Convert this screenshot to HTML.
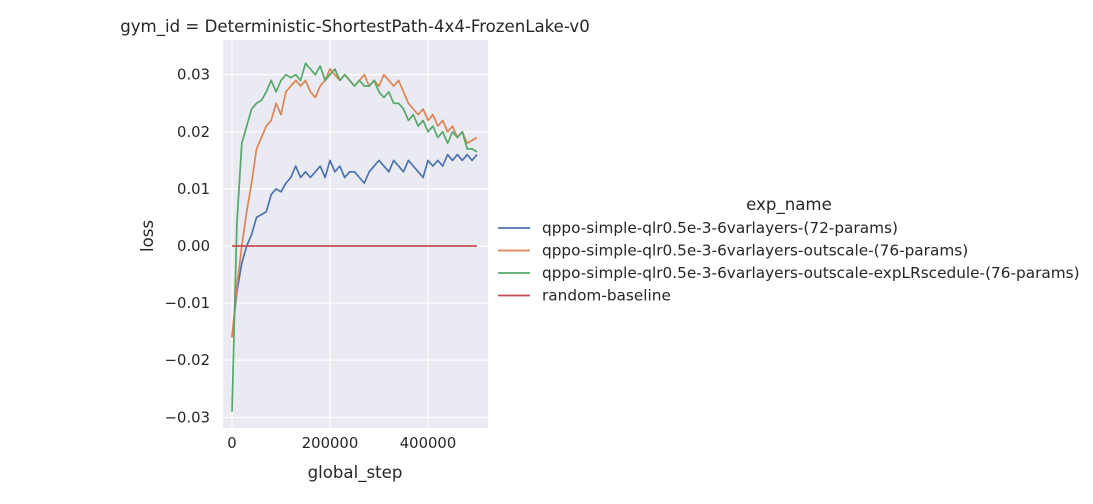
<!DOCTYPE html>
<html><head><meta charset="utf-8"><style>
body{margin:0;background:#fff;font-family:"DejaVu Sans","Liberation Sans",sans-serif;}
</style></head><body>
<svg id="chart" width="1093" height="500" xmlns="http://www.w3.org/2000/svg" font-family="DejaVu Sans, Liberation Sans, sans-serif">
<rect x="223" y="40" width="265" height="388" fill="#eaeaf2"/>
<g id="grid"></g>
<g id="ticks" font-size="14.8" fill="#262626"></g>
<g id="lines"></g>
<text x="355" y="32" text-anchor="middle" font-size="16.6" fill="#262626">gym_id = Deterministic-ShortestPath-4x4-FrozenLake-v0</text>
<text x="355" y="478" text-anchor="middle" font-size="16.6" fill="#262626">global_step</text>
<text transform="translate(153,236) rotate(-90)" text-anchor="middle" font-size="16.6" fill="#262626">loss</text>
<g id="legend" font-size="15.3" fill="#262626">
<text x="789" y="210" text-anchor="middle" font-size="16.6">exp_name</text>
</g>
</svg>
<script>
const steps=[0,10000,20000,30000,40000,50000,60000,70000,80000,90000,100000,110000,120000,130000,140000,150000,160000,170000,180000,190000,200000,210000,220000,230000,240000,250000,260000,270000,280000,290000,300000,310000,320000,330000,340000,350000,360000,370000,380000,390000,400000,410000,420000,430000,440000,450000,460000,470000,480000,490000,500000];
const blue=[-0.016,-0.008,-0.003,0.000,0.002,0.005,0.0055,0.006,0.009,0.010,0.0095,0.011,0.012,0.014,0.012,0.013,0.012,0.013,0.014,0.012,0.015,0.013,0.014,0.012,0.013,0.013,0.012,0.011,0.013,0.014,0.015,0.014,0.013,0.015,0.014,0.013,0.015,0.014,0.013,0.012,0.015,0.014,0.015,0.014,0.016,0.015,0.016,0.015,0.016,0.015,0.016];
const orange=[-0.016,-0.007,0.000,0.006,0.011,0.017,0.019,0.021,0.022,0.025,0.023,0.027,0.028,0.029,0.028,0.029,0.027,0.026,0.028,0.029,0.031,0.030,0.029,0.030,0.029,0.028,0.029,0.030,0.028,0.029,0.028,0.030,0.029,0.028,0.029,0.027,0.025,0.024,0.023,0.024,0.022,0.023,0.021,0.022,0.020,0.021,0.019,0.020,0.018,0.0185,0.019];
const green=[-0.029,0.004,0.018,0.021,0.024,0.025,0.0255,0.027,0.029,0.027,0.029,0.030,0.0295,0.030,0.029,0.032,0.031,0.030,0.0315,0.029,0.030,0.031,0.029,0.030,0.029,0.028,0.029,0.028,0.028,0.029,0.027,0.026,0.027,0.025,0.025,0.024,0.022,0.023,0.021,0.022,0.020,0.021,0.019,0.020,0.018,0.020,0.019,0.020,0.017,0.017,0.0165];
const baseline=[0,0];
const baselineSteps=[0,500000];
const xTicks=[0,200000,400000];
const yTicks=[-0.03,-0.02,-0.01,0.00,0.01,0.02,0.03];
const names=["qppo-simple-qlr0.5e-3-6varlayers-(72-params)","qppo-simple-qlr0.5e-3-6varlayers-outscale-(76-params)","qppo-simple-qlr0.5e-3-6varlayers-outscale-expLRscedule-(76-params)","random-baseline"];
const colors=["#4c72b0","#dd8452","#55a868","#c44e52"];

const NS="http://www.w3.org/2000/svg";
const X=v=>232+v*(98/200000);
const Y=v=>246-v*(57.1/0.01);
function mk(tag,attrs,parent){const e=document.createElementNS(NS,tag);for(const k in attrs)e.setAttribute(k,attrs[k]);parent.appendChild(e);return e;}
const grid=document.getElementById('grid'),ticks=document.getElementById('ticks'),lines=document.getElementById('lines'),legend=document.getElementById('legend');
xTicks.forEach(t=>{
  const l=mk('line',{x1:X(t),x2:X(t),y1:40,y2:428,stroke:'#fff','stroke-width':1.2},grid);
  
  
  const tx=mk('text',{x:X(t),y:448,'text-anchor':'middle'},ticks);tx.textContent=String(t);
  
  
});
yTicks.forEach(t=>{
  const l=mk('line',{x1:223,x2:488,y1:Y(t),y2:Y(t),stroke:'#fff','stroke-width':1.2},grid);
  
  
  const tx=mk('text',{x:210,y:Y(t)+5,'text-anchor':'end'},ticks);tx.textContent=(t<0?'\u2212':'')+Math.abs(t).toFixed(2);
  
  
});
const series=[[steps,blue],[steps,orange],[steps,green],[baselineSteps,baseline]];
series.forEach((s,i)=>{
  const d=s[0].map((x,j)=>(j?'L':'M')+X(x).toFixed(1)+','+Y(s[1][j]).toFixed(1)).join('');
  const p=mk('path',{d:d,fill:'none',stroke:colors[i],'stroke-width':1.7,'stroke-linejoin':'round'},lines);
  
  
  const ly=228+i*22.5;
  const ll=mk('line',{x1:498,x2:530,y1:ly,y2:ly,stroke:colors[i],'stroke-width':1.7},legend);
  
  
  const lt=mk('text',{x:542,y:ly+5},legend);lt.textContent=names[i];
  
  
});
</script>
</body></html>
